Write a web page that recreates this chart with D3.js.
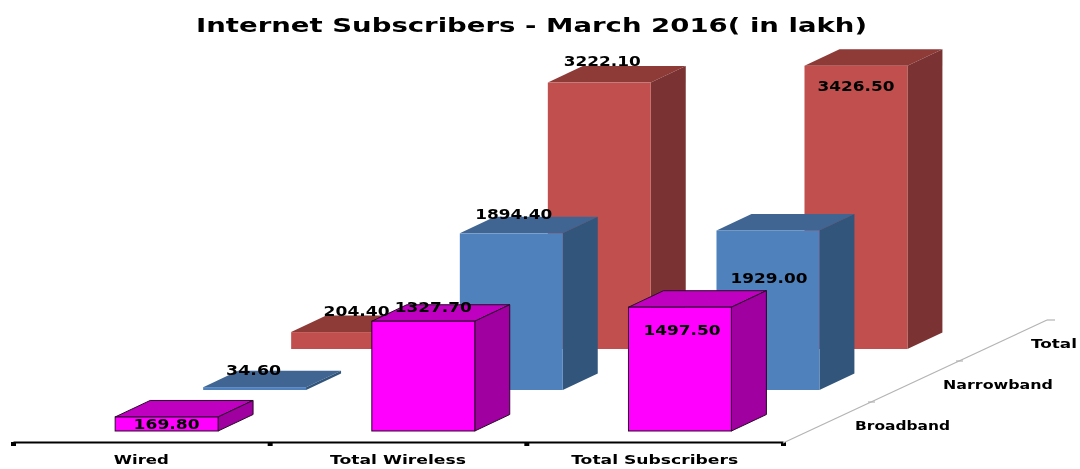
<!DOCTYPE html>
<html><head><meta charset="utf-8">
<script src="https://cdn.jsdelivr.net/npm/d3@7"></script>
<style>html,body{margin:0;padding:0;background:#fff}svg{display:block}
text{font-family:"DejaVu Sans",sans-serif;font-weight:bold;fill:#000}</style>
</head><body><svg id="c" width="1080" height="469"></svg>
<script>
const categories = ["Wired","Total Wireless","Total Subscribers"];
const seriesNames = ["Broadband","Narrowband","Total"];
const broadband = [169.80,1327.70,1497.50];
const narrowband = [34.60,1894.40,1929.00];
const total = [204.40,3222.10,3426.50];
const titleText = "Internet Subscribers - March 2016( in lakh)";

const colours = {
  Broadband:{front:"#ff00ff",top:"#c000c0",side:"#a000a0",stroke:"#2a0a2a"},
  Narrowband:{front:"#4f81bd",top:"#3f6592",side:"#31547b",stroke:"none"},
  Total:{front:"#c0504d",top:"#8e3a38",side:"#7a3230",stroke:"none"}
};
const values = {Broadband:broadband,Narrowband:narrowband,Total:total};
// label placement relative to the centre of the bar's front-top edge
const labelNudge = {
  Broadband:[[0,7.5],[10,-14],[2,23]],
  Narrowband:[[-1,-17],[2.5,-19],[1,47]],
  Total:[[14,-21],[3,-22],[0,20]]
};

const svg = d3.select("#c");
svg.append("defs").append("filter").attr("id","soft")
  .attr("x",0).attr("y",0).attr("width",1).attr("height",1)
  .append("feGaussianBlur").attr("stdDeviation",0.45);
const root = svg.append("g").attr("filter","url(#soft)");
root.append("rect").attr("width",1080).attr("height",469).attr("fill","#fff");

const axisY = 443, axisLeft = 13, axisRight = 783;
const x = d3.scaleBand().domain(categories).range([axisLeft,axisRight]);
const edges = d3.scaleLinear().domain([0,categories.length]).range([axisLeft,axisRight]);
const depthX = d3.scaleBand().domain(seriesNames).range([0,264]);
const depthUp = d3.scaleBand().domain(seriesNames).range([0,123]);
const depthY = s => -depthUp(s);
const h = d3.scaleLinear().domain([0,3426.5]).range([0,283.3]);
const barW = x.bandwidth()*0.401, barInset = x.bandwidth()*0.398;
const faceDx = 35, faceDy = -16.5, floorGap = 12;

function stretched(sel, width){
  sel.attr("textLength",width).attr("lengthAdjust","spacingAndGlyphs");
  return sel;
}
const poly = pts => pts.map(p=>p.join(",")).join(" ");

// back-to-front so that nearer bars cover farther ones
[...seriesNames].reverse().forEach(s=>{
  const c = colours[s], g = root.append("g");
  const dx = depthX(s), dy = depthY(s);
  categories.forEach((cat,i)=>{
    const v = values[s][i];
    const l = x(cat)+barInset+dx, r = l+barW;
    const b = axisY-floorGap+dy, t = b-h(v);
    const sw = s==="Broadband"?1:0;
    g.append("polygon").attr("points",poly([[l,t],[r,t],[r+faceDx,t+faceDy],[l+faceDx,t+faceDy]]))
      .attr("fill",c.top).attr("stroke",c.stroke).attr("stroke-width",sw);
    g.append("polygon").attr("points",poly([[r,t],[r+faceDx,t+faceDy],[r+faceDx,b+faceDy],[r,b]]))
      .attr("fill",c.side).attr("stroke",c.stroke).attr("stroke-width",sw);
    g.append("rect").attr("x",l).attr("y",t).attr("width",barW).attr("height",b-t)
      .attr("fill",c.front).attr("stroke",c.stroke).attr("stroke-width",sw);
  });
});

// category axis
const tickAxis = d3.axisBottom(edges).tickValues(d3.range(categories.length+1)).tickFormat("").tickSize(4).tickSizeOuter(0);
const ga = root.append("g").attr("transform",`translate(0,${axisY-1})`).call(tickAxis);
ga.select(".domain").attr("stroke","#000").attr("stroke-width",2.2);
ga.selectAll(".tick line").attr("stroke","#000").attr("stroke-width",5);
const labAxis = d3.axisBottom(x).tickSize(0).tickPadding(12);
const gb = root.append("g").attr("transform",`translate(0,${axisY})`).call(labAxis);
gb.select(".domain").remove();
const catWidths = [55,136,167];
gb.selectAll(".tick text").style("font-family",'"DejaVu Sans",sans-serif').attr("font-size",13).attr("fill","#000")
  .each(function(d,i){stretched(d3.select(this),catWidths[i]);});

// depth axis
root.append("line").attr("x1",axisRight).attr("y1",axisY)
  .attr("x2",axisRight+264).attr("y2",axisY-123).attr("stroke","#b4b4b4").attr("stroke-width",1.2);
root.append("line").attr("x1",axisRight+264).attr("y1",axisY-123)
  .attr("x2",axisRight+272).attr("y2",axisY-123).attr("stroke","#b4b4b4").attr("stroke-width",1.2);
seriesNames.slice(1).forEach(s=>{
  root.append("line").attr("x1",axisRight+depthX(s)-3).attr("y1",axisY+depthY(s))
    .attr("x2",axisRight+depthX(s)+4).attr("y2",axisY+depthY(s)).attr("stroke","#b4b4b4").attr("stroke-width",1.2);
});
const depthWidths = [95,110,46];
seriesNames.forEach((s,i)=>{
  stretched(root.append("text").attr("x",axisRight+depthX(s)+72).attr("y",axisY+depthY(s)-13.5)
    .attr("font-size",13).text(s),depthWidths[i]);
});

// value labels
seriesNames.forEach(s=>{
  categories.forEach((cat,i)=>{
    const v = values[s][i], n = labelNudge[s][i];
    const cx = x(cat)+barInset+depthX(s)+barW/2;
    const t = axisY-floorGap+depthY(s)-h(v);
    const txt = v.toFixed(2);
    stretched(root.append("text").attr("x",cx+n[0]-(txt.length*11)/2).attr("y",t+n[1]+5)
      .attr("font-size",13.5).text(txt),txt.length*11);
  });
});

stretched(root.append("text").attr("x",196).attr("y",32).attr("font-size",20).text(titleText),671);
</script></body></html>
